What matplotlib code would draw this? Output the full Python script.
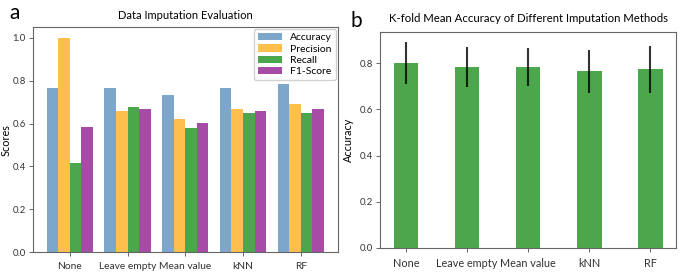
import matplotlib

matplotlib.use("Agg")
import matplotlib.pyplot as plt
import numpy as np

plt.rcParams["font.family"] = ["Lato", "DejaVu Sans"]

METHODS = ["None", "Leave empty", "Mean value", "kNN", "RF"]
METRICS = ["Accuracy", "Precision", "Recall", "F1-Score"]
SCORES = {
    "Accuracy": [0.764, 0.766, 0.732, 0.766, 0.785],
    "Precision": [1.000, 0.659, 0.622, 0.670, 0.692],
    "Recall": [0.415, 0.679, 0.581, 0.647, 0.647],
    "F1-Score": [0.586, 0.670, 0.601, 0.659, 0.670],
}
KFOLD_MEAN = [0.800, 0.783, 0.783, 0.764, 0.774]
KFOLD_ERR = [0.090, 0.085, 0.083, 0.095, 0.102]

METRIC_COLORS = ["steelblue", "orange", "green", "purple"]
SPINE = "#666666"


def style_axes(ax, xsize):
    for s in ax.spines.values():
        s.set_color(SPINE)
        s.set_linewidth(0.8)
    ax.tick_params(colors=SPINE, labelcolor="#333333", length=3, width=0.7, pad=2)
    ax.tick_params(axis="y", labelsize=6.8)
    ax.tick_params(axis="x", labelsize=xsize, pad=4)


fig = plt.figure(figsize=(6.85, 2.74), dpi=100)

# panel a: grouped bars
ax1 = fig.add_axes([0.048, 0.080, 0.445, 0.821])
x = np.arange(len(METHODS))
w = 0.2
for i, (m, c) in enumerate(zip(METRICS, METRIC_COLORS)):
    ax1.bar(x + (i - 1.5) * w, SCORES[m], width=w, color=c, alpha=0.7, label=m)
ax1.set_xticks(x)
ax1.set_xticklabels(METHODS)
ax1.set_yticks([0.0, 0.2, 0.4, 0.6, 0.8, 1.0])
ax1.set_ylim(0, 1.05)
ax1.set_ylabel("Scores", fontsize=7.8, labelpad=1)
ax1.set_title("Data Imputation Evaluation", fontsize=8, pad=6)
ax1.legend(loc="upper right", fontsize=7.5, handlelength=2.3,
           borderpad=0.4, labelspacing=0.2, framealpha=0.9,
           borderaxespad=0.15)
style_axes(ax1, 7.4)

# panel b: k-fold mean accuracy
ax2 = fig.add_axes([0.555, 0.095, 0.432, 0.788])
ax2.bar(x, KFOLD_MEAN, width=0.4, yerr=KFOLD_ERR, color="green", alpha=0.7,
        error_kw=dict(ecolor="black", elinewidth=1.5, alpha=0.8))
ax2.set_xticks(x)
ax2.set_xticklabels(METHODS)
ax2.set_yticks([0.0, 0.2, 0.4, 0.6, 0.8])
ax2.set_ylabel("Accuracy", fontsize=7.8, labelpad=4)
ax2.set_title("K-fold Mean Accuracy of Different Imputation Methods",
              fontsize=8.2, pad=7)
style_axes(ax2, 7.8)

fig.text(0.013, 0.93, "a", fontsize=15)
fig.text(0.512, 0.90, "b", fontsize=15)

fig.savefig("out.png", dpi=100)
